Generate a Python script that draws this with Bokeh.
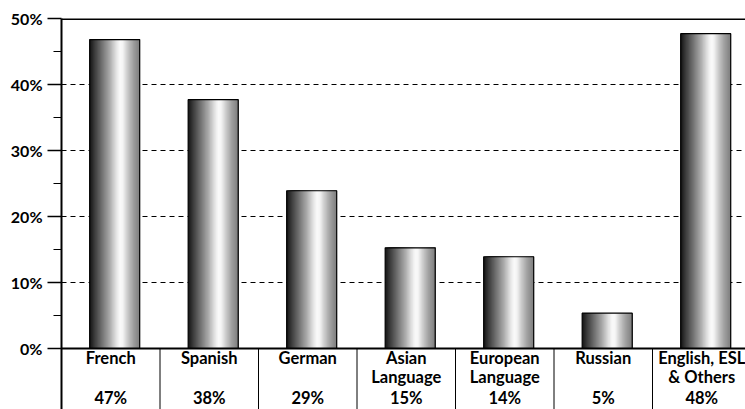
from bokeh.plotting import figure
from bokeh.models import Range1d, FixedTicker, Span, ColumnDataSource
from bokeh.core.properties import value
from bokeh.embed import file_html
from bokeh.resources import INLINE

# ---- data ----
categories = ["French", "Spanish", "German", "Asian\nLanguage", "European\nLanguage",
              "Russian", "English, ESL\n& Others"]
bar_values = [46.8, 37.7, 23.9, 15.25, 13.9, 5.35, 47.7]
pct_labels = ["47%", "38%", "29%", "15%", "14%", "5%", "48%"]
y_ticks = [0, 10, 20, 30, 40, 50]
y_tick_labels = ["0%", "10%", "20%", "30%", "40%", "50%"]
y_minor = [5, 15, 25, 35, 45]
grid_ticks = [10, 20, 30, 40]

FONT_NAME = "Lato"
FONT = value(FONT_NAME)
Y_BOTTOM = -9.24
n = len(categories)

p = figure(width=745, height=409, output_backend="svg", toolbar_location=None,
           x_range=Range1d(0, 6.944), y_range=Range1d(Y_BOTTOM, 50),
           x_axis_location=None, y_axis_location="left",
           min_border_left=61, min_border_top=18, min_border_bottom=0, min_border_right=0)
p.outline_line_color = None
p.background_fill_color = "white"

# axis
ax = p.yaxis[0]
ax.ticker = FixedTicker(ticks=y_ticks, minor_ticks=y_minor)
ax.major_label_overrides = {t: l for t, l in zip(y_ticks, y_tick_labels)}
ax.major_label_text_font = FONT_NAME
ax.major_label_text_font_style = "bold"
ax.major_label_text_font_size = "16px"
ax.major_label_text_color = "black"
ax.major_label_standoff = 5
ax.major_tick_out = 14
ax.major_tick_in = 0
ax.minor_tick_out = 8
ax.minor_tick_in = 0
ax.axis_line_width = 2
ax.axis_line_color = "black"
ax.major_tick_line_width = 1.5
ax.minor_tick_line_width = 1.2

# grid
p.xgrid.visible = False
p.ygrid.ticker = FixedTicker(ticks=grid_ticks)
p.ygrid.grid_line_color = "black"
p.ygrid.grid_line_dash = "5 4"
p.ygrid.grid_line_width = 1

# gradient bars (layered strips: each strip runs to the bar's right edge)
stops = [(0.0, 20), (0.1, 60), (0.25, 115), (0.4, 170), (0.52, 222), (0.6, 250),
         (0.66, 245), (0.75, 205), (0.87, 160), (1.0, 125)]

def gray(t):
    for (t0, g0), (t1, g1) in zip(stops[:-1], stops[1:]):
        if t <= t1:
            f = (t - t0) / (t1 - t0) if t1 > t0 else 0
            g = int(round(g0 + f * (g1 - g0)))
            return "#%02x%02x%02x" % (g, g, g)
    g = stops[-1][1]
    return "#%02x%02x%02x" % (g, g, g)

BW = 0.508
OFF = 0.04
NS = 50
centers = [i + 0.5 + OFF for i in range(n)]
lefts, rights, tops, cols = [], [], [], []
for c, v in zip(centers, bar_values):
    for k in range(NS):
        t = k / NS
        lefts.append(c - BW / 2 + t * BW)
        rights.append(c + BW / 2)
        tops.append(v)
        cols.append(gray((k + 0.5) / NS))
strip_src = ColumnDataSource(dict(left=lefts, right=rights, top=tops, color=cols))
p.quad(left="left", right="right", top="top", bottom=0, fill_color="color",
       line_color=None, source=strip_src)
p.vbar(x=centers, top=bar_values, bottom=0, width=BW, fill_color=None,
       line_color="black", line_width=1.2)

# zero line and top border
p.add_layout(Span(location=0, dimension="width", line_color="black", line_width=2))
p.add_layout(Span(location=50, dimension="width", line_color="black", line_width=3))

# table separators below the axis
bounds = list(range(1, n))
p.segment(x0=bounds, x1=bounds, y0=[Y_BOTTOM] * len(bounds), y1=[0] * len(bounds),
          line_color="black", line_width=1)

# labels
line1 = [c.split("\n")[0] for c in categories]
line2 = [c.split("\n")[1] if "\n" in c else "" for c in categories]
mids = [i + 0.5 for i in range(n)]
common = dict(text_font=FONT, text_font_style="bold", text_font_size="16.5px",
              text_align="center", text_baseline="alphabetic", text_color="black")
p.text(x=mids, y=[-1.38] * n, text=line1, **common)
p.text(x=mids, y=[-4.33] * n, text=line2, **common)
p.text(x=mids, y=[-7.5] * n, text=pct_labels, **common)

open("out.html", "w").write(file_html(p, INLINE))
